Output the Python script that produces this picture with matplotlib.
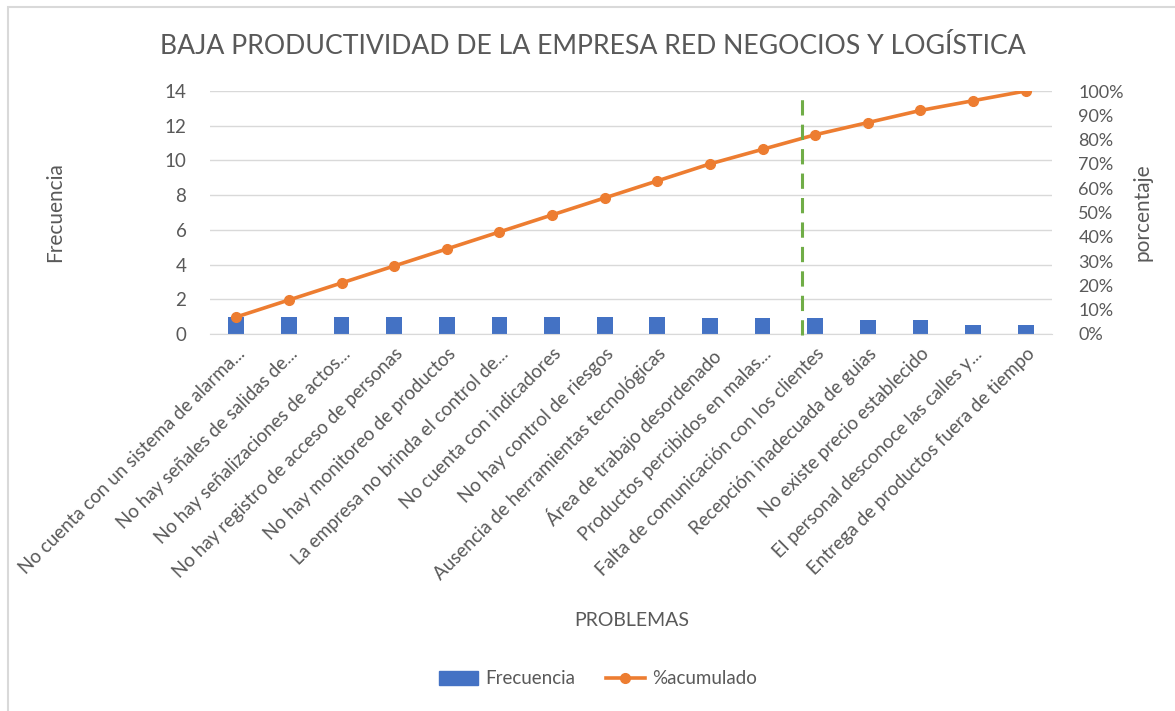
import matplotlib
matplotlib.use("Agg")
import matplotlib.pyplot as plt
from matplotlib.patches import Rectangle
from matplotlib.lines import Line2D

categories = [
    "No cuenta con un sistema de alarma...",
    "No hay señales de salidas de...",
    "No hay señalizaciones de actos...",
    "No hay registro de acceso de personas",
    "No hay monitoreo de productos",
    "La empresa no brinda el control de...",
    "No cuenta con indicadores",
    "No hay control de riesgos",
    "Ausencia de herramientas tecnológicas",
    "Área de trabajo desordenado",
    "Productos percibidos en malas...",
    "Falta de comunicación con los clientes",
    "Recepción inadecuada de guias",
    "No existe precio establecido",
    "El personal desconoce las calles y...",
    "Entrega de productos fuera de tiempo",
]
frecuencia = [1, 1, 1, 1, 1, 1, 1, 1, 1, 0.9, 0.9, 0.9, 0.8, 0.8, 0.5, 0.5]
acumulado = [0.07, 0.14, 0.21, 0.28, 0.35, 0.42, 0.49, 0.56, 0.63, 0.70,
             0.76, 0.82, 0.87, 0.92, 0.96, 1.00]
left_ticks = [0, 2, 4, 6, 8, 10, 12, 14]
right_ticks = [0, 0.1, 0.2, 0.3, 0.4, 0.5, 0.6, 0.7, 0.8, 0.9, 1.0]
cut_position = 10.75

plt.rcParams['font.family'] = ['Lato', 'DejaVu Sans']
TXT = '#595959'
GRID = '#d9d9d9'

fig = plt.figure(figsize=(11.75, 7.11), dpi=100)
fig.add_artist(Rectangle((8/1175, -0.05), 1.1, 1.05 - 7/711, transform=fig.transFigure,
                         fill=False, edgecolor='#d9d9d9', linewidth=1.5))

ax = fig.add_axes([210/1175, 1 - 334/711, (1052 - 210)/1175, (334 - 91)/711])
x = list(range(len(categories)))
ax.bar(x, frecuencia, width=0.3, color='#4472c4', zorder=2)
ax.set_xlim(-0.5, len(categories) - 0.5)
ax.set_ylim(0, 14)
ax.set_yticks(left_ticks)
ax.grid(axis='y', color=GRID, linewidth=1, zorder=0)
for s in ['top', 'right', 'left']:
    ax.spines[s].set_visible(False)
ax.spines['bottom'].set_color(GRID)
ax.tick_params(axis='y', length=0, colors=TXT, labelsize=13.5, pad=17)
ax.tick_params(axis='x', length=0, colors=TXT, labelsize=13.5, pad=8)
ax.set_xticks(x)
ax.set_xticklabels(categories, rotation=45, ha='right', rotation_mode='anchor')

ax2 = ax.twinx()
ax2.plot(x, acumulado, color='#ed7d31', linewidth=2.6, marker='o', markersize=7, zorder=3)
ax2.set_ylim(0, 1)
ax2.set_yticks(right_ticks)
ax2.set_yticklabels([f"{int(round(t*100))}%" for t in right_ticks])
for s in ['top', 'right', 'left', 'bottom']:
    ax2.spines[s].set_visible(False)
ax2.tick_params(axis='y', length=0, colors=TXT, labelsize=13, pad=19)
ax2.axvline(cut_position, ymin=-0.005, ymax=1.0, color='#70ad47', linewidth=2.2,
            linestyle=(0, (5, 3)), zorder=4, clip_on=False)

fig.text(593/1175, 1 - 46/711, "BAJA PRODUCTIVIDAD DE LA EMPRESA RED NEGOCIOS Y LOGÍSTICA",
         ha='center', va='center', fontsize=19.2, color=TXT)
fig.text(55/1175, 1 - 212/711, "Frecuencia", rotation=90, ha='center', va='center',
         fontsize=15, color=TXT)
fig.text(1142/1175, 1 - 212/711, "porcentaje", rotation=90, ha='center', va='center',
         fontsize=15, color=TXT)
fig.text(632/1175, 1 - 621/711, "PROBLEMAS", ha='center', va='center',
         fontsize=14, color=TXT)

handles = [Rectangle((0, 0), 1, 1, color='#4472c4'),
           Line2D([0], [0], color='#ed7d31', linewidth=2.6, marker='o', markersize=7)]
fig.legend(handles, ["Frecuencia", "%acumulado"], loc='center',
           bbox_to_anchor=(598/1175, 1 - 679/711), ncol=2, frameon=False,
           fontsize=13.5, labelcolor=TXT, handlelength=2.1, columnspacing=1.6,
           handletextpad=0.4, handleheight=0.75)

fig.savefig("out.png", dpi=100)
